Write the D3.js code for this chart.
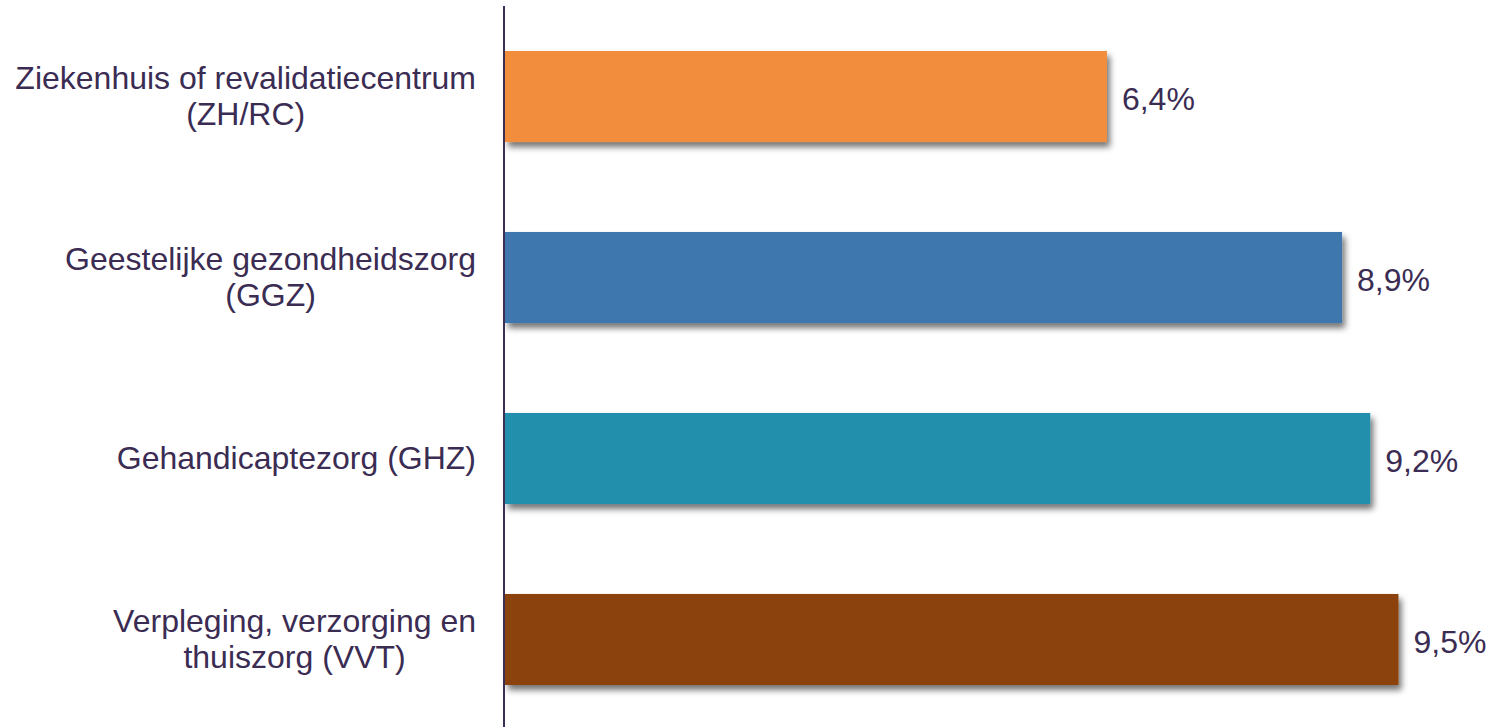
<!DOCTYPE html>
<html><head><meta charset="utf-8">
<script src="https://cdn.jsdelivr.net/npm/d3@7"></script>
<style>html,body{margin:0;padding:0;background:#fff;}svg{display:block;}</style>
</head><body>
<svg id="c" width="1493" height="727"></svg>
<script>
const categories = ["ZH/RC", "GGZ", "GHZ", "VVT"];
const labelLines = [
  ["Ziekenhuis of revalidatiecentrum", "(ZH/RC)"],
  ["Geestelijke gezondheidszorg", "(GGZ)"],
  ["Gehandicaptezorg (GHZ)"],
  ["Verpleging, verzorging en", "thuiszorg (VVT)"]
];
const values = [6.4, 8.9, 9.2, 9.5];
const valueLabels = ["6,4%", "8,9%", "9,2%", "9,5%"];
const colors = ["#F18D3C", "#3D77AD", "#2190AD", "#8B4309"];

const svg = d3.select("#c");
const textColor = "#3A2C52";
const font = "'Liberation Sans', Arial, sans-serif";

const x = d3.scaleLinear().domain([0, 10]).range([505, 505 + 940.5]);
const y = d3.scaleBand().domain(categories).range([6, 730]).paddingInner(0.497).paddingOuter(0.2485);

const defs = svg.append("defs");
const f = defs.append("filter").attr("id", "sh").attr("x", "-10%").attr("y", "-20%").attr("width", "130%").attr("height", "160%");
f.append("feDropShadow").attr("dx", 3).attr("dy", 5).attr("stdDeviation", 3).attr("flood-color", "#000").attr("flood-opacity", 0.55);

svg.selectAll("rect.bar").data(categories).join("rect")
  .attr("class", "bar")
  .attr("x", x(0))
  .attr("y", d => y(d))
  .attr("width", (d, i) => x(values[i]) - x(0))
  .attr("height", y.bandwidth())
  .attr("fill", (d, i) => colors[i])
  .attr("filter", "url(#sh)");

// axis line
svg.append("line").attr("x1", 504).attr("x2", 504).attr("y1", 6).attr("y2", 727)
  .attr("stroke", "#3C2E55").attr("stroke-width", 2);

// value labels
svg.selectAll("text.val").data(categories).join("text")
  .attr("class", "val")
  .attr("x", (d, i) => x(values[i]) + 15)
  .attr("y", d => y(d) + y.bandwidth() / 2 + 13)
  .attr("font-family", font).attr("font-size", 32).attr("fill", textColor)
  .text((d, i) => valueLabels[i]);

// category labels: block right aligned, lines centered
const lineH = 36;
const rightEdge = 476;
categories.forEach((c, i) => {
  const lines = labelLines[i];
  const g = svg.append("g");
  const cy = y(c) + y.bandwidth() / 2;
  const first = cy - (lines.length - 1) * lineH / 2 + 10;
  const ts = lines.map((l, j) => g.append("text")
    .attr("y", first + j * lineH)
    .attr("font-family", font).attr("font-size", 32).attr("fill", textColor)
    .attr("text-anchor", "middle").text(l));
  const w = d3.max(ts, t => t.node().getComputedTextLength());
  ts.forEach(t => t.attr("x", rightEdge - w / 2));
});
</script>
</body></html>
